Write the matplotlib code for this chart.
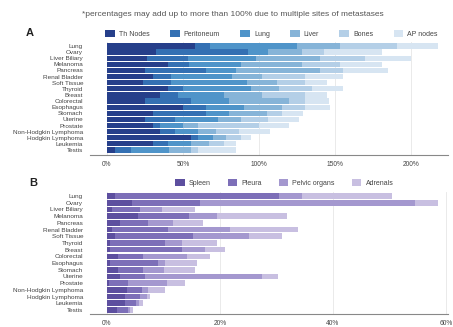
import matplotlib
matplotlib.use("Agg")
import matplotlib.pyplot as plt
import numpy as np

plt.rcParams['font.family'] = ['Liberation Sans', 'DejaVu Sans']

categories = ["Lung", "Ovary", "Liver Biliary", "Melanoma", "Pancreas", "Renal Bladder",
              "Soft Tissue", "Thyroid", "Breast", "Colorectal", "Esophagus", "Stomach",
              "Uterine", "Prostate", "Non-Hodgkin Lymphoma", "Hodgkin Lymphoma",
              "Leukemia", "Testis"]

# Panel A (percent)
sites_a = ["Th Nodes", "Peritoneum", "Lung", "Liver", "Bones", "AP nodes"]
th_nodes   = [58, 32, 26, 40, 25, 30, 24, 40, 35, 25, 50, 30, 25, 30, 35, 55, 30, 5]
peritoneum = [10, 61, 27, 14, 40, 12, 18, 10, 12, 30, 15, 35, 20, 5, 10, 5, 10, 11]
lung_a     = [57, 13, 45, 34, 20, 40, 50, 45, 30, 25, 25, 15, 28, 15, 15, 10, 15, 25]
liver      = [28, 22, 42, 40, 55, 20, 20, 18, 25, 40, 25, 25, 15, 10, 12, 8, 12, 14]
bones      = [38, 15, 30, 25, 15, 28, 18, 22, 28, 10, 15, 10, 18, 40, 15, 10, 10, 5]
ap_nodes   = [27, 38, 30, 28, 30, 25, 15, 20, 15, 16, 17, 14, 20, 20, 20, 7, 8, 25]
series_a = [th_nodes, peritoneum, lung_a, liver, bones, ap_nodes]
colors_a = ["#263f8a", "#3470b3", "#4f94c9", "#86b4d8", "#b4cfe7", "#d7e5f2"]
ticks_a = [0, 50, 100, 150, 200]
ticklabels_a = ["0%", "50%", "100%", "150%", "200%"]

# Panel B (percent)
sites_b = ["Spleen", "Pleura", "Pelvic organs", "Adrenals"]
spleen = [1.5, 4.5, 0.8, 5.5, 2.3, 0.8, 1.4, 0.6, 0.6, 2.0, 0.5, 2.0, 2.3, 0.4, 3.5, 3.2, 3.2, 1.7]
pleura = [29, 12, 5, 9, 5, 10, 13.8, 9.7, 12.7, 4.4, 8.5, 4.4, 4.4, 3.3, 2.7, 2.6, 2.0, 2.0]
pelvic = [4, 38, 4, 5, 4.4, 11, 10, 3, 4, 7.8, 1.3, 3.6, 20.7, 6.9, 1.1, 1.3, 0.5, 0.4]
adrenals = [16, 4, 5.8, 12.3, 5.3, 12, 5.8, 6.2, 3.6, 4, 5.7, 5.6, 2.9, 3.2, 3.0, 0.5, 0.7, 0.5]
series_b = [spleen, pleura, pelvic, adrenals]
colors_b = ["#5d4f9f", "#7d6fb8", "#a498cf", "#c8bfe1"]
ticks_b = [0, 20, 40, 60]
ticklabels_b = ["0%", "20%", "40%", "60%"]

title = "*percentages may add up to more than 100% due to multiple sites of metastases"

W, H = 453, 327
fig = plt.figure(figsize=(W / 100, H / 100), dpi=100)

def px_axes(l, t, r, b):
    return fig.add_axes([l / W, 1 - b / H, (r - l) / W, (b - t) / H])

def style(ax, ticks, labels):
    for s in ["top", "right", "left"]:
        ax.spines[s].set_visible(False)
    ax.spines["bottom"].set_color("#888888")
    ax.spines["bottom"].set_linewidth(0.8)
    ax.set_xticks(ticks)
    ax.set_xticklabels(labels, fontsize=4.8, color="#444444")
    ax.tick_params(axis="x", length=0, pad=4)
    ax.tick_params(axis="y", length=0, pad=5, labelsize=4.6, labelcolor="#444444")
    ax.grid(axis="x", color="#e6e6e6", linewidth=0.6)
    ax.set_axisbelow(True)

y = np.arange(len(categories))

# Panel A
axA = px_axes(90, 42, 448, 155)
left = np.zeros(len(categories))
handles_a = []
for vals, col, name in zip(series_a, colors_a, sites_a):
    h = axA.barh(y, vals, left=left, height=0.85, color=col, label=name)
    handles_a.append(h)
    left += np.array(vals)
axA.set_xlim(-17 / 1.52, (448 - 107) / 1.52)
axA.set_ylim(17.82, -0.65)
axA.set_yticks(y)
axA.set_yticklabels(categories)
style(axA, ticks_a, ticklabels_a)

# Panel B
axB = px_axes(90, 192, 448, 314)
left = np.zeros(len(categories))
handles_b = []
for vals, col, name in zip(series_b, colors_b, sites_b):
    h = axB.barh(y, vals, left=left, height=0.85, color=col, label=name)
    handles_b.append(h)
    left += np.array(vals)
axB.set_xlim(-17 / 5.65, (448 - 107) / 5.65)
axB.set_ylim(17.6, -0.6)
axB.set_yticks(y)
axB.set_yticklabels(categories)
style(axB, ticks_b, ticklabels_b)

fig.text(233 / W, 1 - 15 / H, title, ha="center", va="center", fontsize=6, color="#555555")
fig.text(30 / W, 1 - 33 / H, "A", ha="center", va="center", fontsize=8, fontweight="bold", color="#222222")
fig.text(33 / W, 1 - 183 / H, "B", ha="center", va="center", fontsize=8, fontweight="bold", color="#222222")

fig.legend(handles=handles_a, labels=sites_a, loc="center left",
           bbox_to_anchor=(105 / W, 1 - 34 / H), bbox_transform=fig.transFigure,
           ncol=6, frameon=False, fontsize=5, borderpad=0, borderaxespad=0,
           handlelength=1.4, handleheight=1.1, handletextpad=0.6, columnspacing=2.9,
           labelcolor="#444444")
fig.legend(handles=handles_b, labels=sites_b, loc="center left",
           bbox_to_anchor=(175 / W, 1 - 183 / H), bbox_transform=fig.transFigure,
           ncol=4, frameon=False, fontsize=5, borderpad=0, borderaxespad=0,
           handlelength=1.4, handleheight=1.1, handletextpad=0.6, columnspacing=2.4,
           labelcolor="#444444")

fig.savefig("out.png", dpi=100, facecolor="white")
